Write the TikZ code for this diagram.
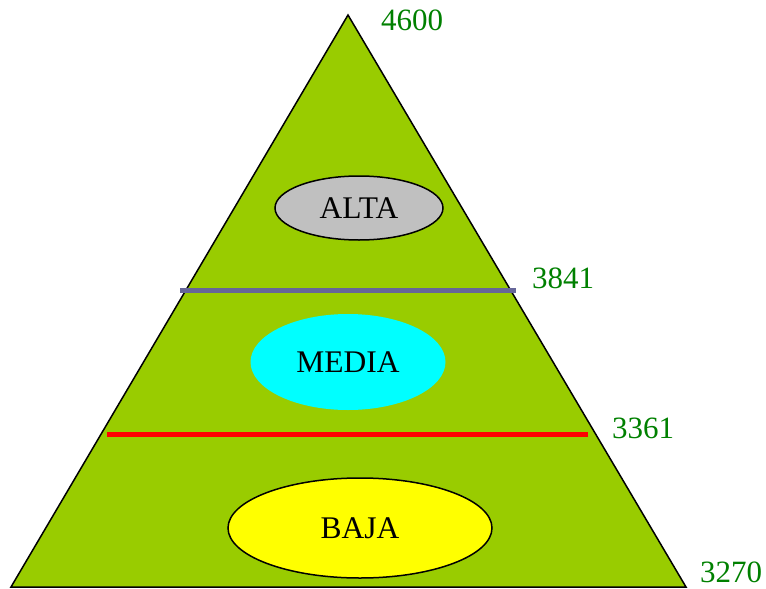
\documentclass[tikz,border=0pt]{standalone}
\usepackage{fontspec}
\setmainfont{Liberation Serif}
\usetikzlibrary{shapes.geometric}
\definecolor{pyrgreen}{HTML}{99CC00}
\definecolor{lblgreen}{HTML}{008000}
\definecolor{slate}{HTML}{666699}
\definecolor{altagray}{HTML}{C0C0C0}
\definecolor{mediacyan}{HTML}{00FFFF}
\definecolor{bajayellow}{HTML}{FFFF00}
\definecolor{redline}{HTML}{FF0000}
\begin{document}
\begin{tikzpicture}[x=1pt,y=-1pt,
  lvl/.style={ellipse,draw=black,line width=1.5pt,inner sep=0pt,font=\fontsize{31.5}{34}\selectfont},
  val/.style={text=lblgreen,font=\fontsize{31}{34}\selectfont,inner sep=0pt}]
\useasboundingbox (0,0) rectangle (766,589);
\coordinate (apex) at (348,15);
\coordinate (bl) at (11,587);
\coordinate (br) at (686,587);
\draw[fill=pyrgreen,line width=1.5pt,line join=miter] (apex) -- (br) -- (bl) -- cycle;
\coordinate (m1) at (180,290);
\coordinate (m2) at (516,290);
\coordinate (r1) at (107,434);
\coordinate (r2) at (588,434);
\draw[slate,line width=5pt] (m1) -- (m2);
\draw[redline,line width=5pt] (r1) -- (r2);
\node[lvl,fill=altagray,minimum width=168pt,minimum height=64pt] (alta) at (359,208) {ALTA};
\node[lvl,draw=none,fill=mediacyan,minimum width=195pt,minimum height=96pt] (media) at (348,362) {MEDIA};
\node[lvl,fill=bajayellow,minimum width=264pt,minimum height=100pt] (baja) at (360,528) {BAJA};
\node[val] (v1) at (412,20) {4600};
\node[val] (v2) at (563,278) {3841};
\node[val] (v3) at (643,428) {3361};
\node[val] (v4) at (731,572) {3270};
\end{tikzpicture}
\end{document}
